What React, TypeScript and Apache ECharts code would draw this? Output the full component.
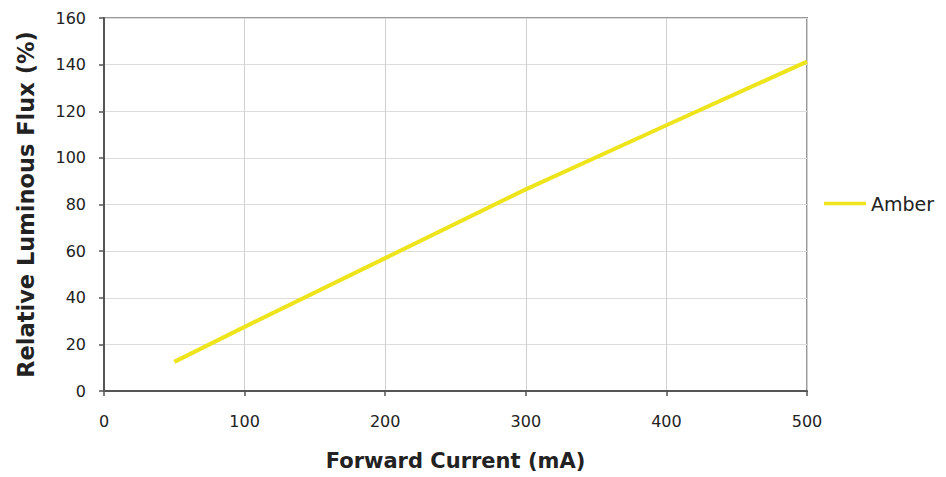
import React, { useEffect, useRef } from "react";
import * as echarts from "echarts";

const current = [50, 100, 200, 300, 400, 500];
const amber = [12.5, 27.5, 57, 86.5, 114, 141.3];
const seriesName = "Amber";

export default function App() {
  const ref = useRef<HTMLDivElement>(null);
  useEffect(() => {
    const chart = echarts.init(ref.current!, null, { renderer: "svg" });
    const font = "DejaVu Sans, Verdana, sans-serif";
    chart.setOption({
      animation: false,
      textStyle: { fontFamily: font },
      grid: {
        left: 96,
        top: 10,
        right: 139,
        bottom: 86,
        show: true,
        borderColor: "#9a9a9a",
        borderWidth: 2,
        outerBoundsMode: "none",
        containLabel: false,
      },
      legend: {
        left: 811,
        top: 181,
        orient: "vertical",
        itemWidth: 42,
        itemHeight: 20,
        itemGap: 5,
        textStyle: { fontFamily: font, fontSize: 19, color: "#222" },
        data: [{ name: seriesName, icon: "path://M0,0 L40,0 L40,3.5 L0,3.5 Z" }],
      },
      xAxis: {
        type: "value",
        min: 0,
        max: 500,
        interval: 100,
        name: "Forward Current (mA)",
        nameLocation: "middle",
        nameGap: 59,
        nameTextStyle: { fontFamily: font, fontSize: 21, fontWeight: "bold", color: "#222" },
        axisLine: { show: true, lineStyle: { color: "#555", width: 2 } },
        axisTick: { show: true, length: 5, lineStyle: { color: "#555", width: 1.5 } },
        axisLabel: { fontFamily: font, fontSize: 16, color: "#222", margin: 22 },
        splitLine: { show: true, lineStyle: { color: "#d0d0d0", width: 1 } },
      },
      yAxis: {
        type: "value",
        min: 0,
        max: 160,
        interval: 20,
        name: "Relative Luminous Flux (%)",
        nameLocation: "middle",
        nameGap: 67,
        nameTextStyle: { fontFamily: font, fontSize: 22.5, fontWeight: "bold", color: "#222" },
        axisLine: { show: true, lineStyle: { color: "#555", width: 2 } },
        axisTick: { show: true, length: 5, lineStyle: { color: "#555", width: 1.5 } },
        axisLabel: { fontFamily: font, fontSize: 16, color: "#222", margin: 18 },
        splitLine: { show: true, lineStyle: { color: "#dcdcdc", width: 1 } },
      },
      series: [
        {
          name: seriesName,
          type: "line",
          data: current.map((c, i) => [c, amber[i]]),
          symbol: "none",
          lineStyle: { color: "#EEE41B", width: 4 },
          itemStyle: { color: "#EEE41B" },
        },
      ],
    });
    return () => chart.dispose();
  }, []);
  return <div ref={ref} style={{ width: 938, height: 469 }} />;
}
